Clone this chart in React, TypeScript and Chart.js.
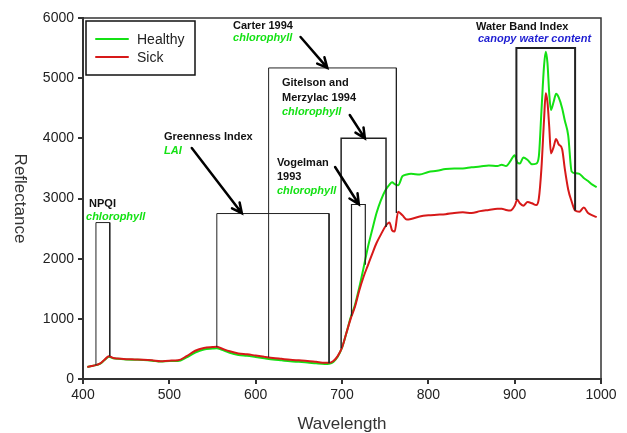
import React, { useEffect, useRef } from "react";
import { Chart, registerables } from "chart.js";

Chart.register(...registerables);

const wavelengths = [405,410,415,420,425,430,435,440,450,460,470,480,490,500,510,520,530,540,550,555,560,570,580,590,600,610,620,630,640,650,660,670,680,685,690,695,700,705,710,715,720,725,730,735,740,745,750,755,758,761,765,770,775,780,790,800,810,820,830,840,850,860,870,880,885,890,895,900,903,906,910,915,920,925,928,931,934,936,938,940,942,945,948,951,955,958,962,966,970,975,980,985,990,995];

const healthy = [200,215,230,255,315,370,345,335,325,320,315,305,290,300,300,360,440,490,505,510,490,435,400,385,365,345,325,310,295,285,275,260,250,255,285,370,520,760,1020,1230,1520,1850,2190,2480,2760,2970,3130,3230,3270,3240,3220,3370,3400,3410,3400,3440,3460,3490,3500,3500,3520,3530,3550,3540,3560,3540,3620,3720,3600,3580,3680,3640,3570,3580,3700,4450,5200,5440,5250,4750,4470,4600,4740,4680,4500,4300,4050,3450,3420,3410,3340,3290,3230,3190];

const sick = [200,215,230,260,320,380,350,340,330,325,320,310,295,305,310,380,470,515,530,535,510,460,425,410,390,370,350,335,320,310,300,285,270,270,300,380,520,760,1000,1200,1470,1700,1890,2080,2260,2400,2530,2600,2470,2450,2780,2720,2650,2660,2700,2720,2730,2740,2760,2770,2760,2790,2810,2830,2830,2810,2800,2880,2980,2920,2880,2940,2920,2890,3000,3500,4300,4750,4600,4200,3750,3850,3990,3900,3820,3500,3150,2950,2800,2780,2850,2760,2720,2690];

const xTicks = [400, 500, 600, 700, 800, 900, 1000];
const yTicks = [0, 1000, 2000, 3000, 4000, 5000, 6000];

const boxStart = [415, 555, 615, 699, 711, 902];
const boxEnd = [431, 685, 763, 751, 727, 970];
const boxTop = [2600, 2750, 5170, 4000, 2900, 5500];
const boxStartBase = [230, 530, 360, 510, 1050, 2975];
const boxEndBase = [380, 265, 2760, 2525, 1900, 2800];
const boxWidths = [1, 1, 1, 1.5, 1.2, 2];

const arrowFromX = [652, 709, 692, 526];
const arrowFromY = [5684, 4388, 3523, 3839];
const arrowToX = [683, 726.5, 719.5, 584];
const arrowToY = [5170, 4000, 2905, 2755];

const labelTexts = ["Carter 1994", "chlorophyll", "Gitelson and", "Merzylac 1994", "chlorophyll", "Vogelman", "1993", "chlorophyll", "Greenness Index", "LAI", "NPQI", "chlorophyll", "Water Band Index", "canopy water content"];
const labelX = [573.8, 573.8, 630.5, 630.5, 630.5, 624.7, 624.7, 624.7, 493.8, 493.8, 407, 403.5, 855.2, 857.5];
const labelY = [5867, 5667, 4919, 4670, 4437, 3590, 3357, 3124, 4022, 3789, 2908, 2692, 5850, 5651];
const labelKind = ["t", "g", "t", "t", "g", "t", "t", "g", "t", "g", "t", "g", "t", "b"];

const GREEN = "rgb(20,225,20)";
const RED = "rgb(215,25,25)";
const FONT = "'Liberation Sans', Arial, sans-serif";

const overlay = {
  id: "overlay",
  afterDatasetsDraw(chart: any) {
    const { ctx, chartArea, scales } = chart;
    const xs = scales.x;
    const ys = scales.y;
    ctx.save();
    // frame
    ctx.strokeStyle = "#333";
    ctx.lineWidth = 1.5;
    ctx.strokeRect(chartArea.left, chartArea.top, chartArea.right - chartArea.left, chartArea.bottom - chartArea.top);

    // arrows
    ctx.strokeStyle = "#000";
    ctx.lineWidth = 2.5;
    ctx.lineCap = "round";
    for (let i = 0; i < arrowFromX.length; i++) {
      const x1 = xs.getPixelForValue(arrowFromX[i]);
      const y1 = ys.getPixelForValue(arrowFromY[i]);
      const x2 = xs.getPixelForValue(arrowToX[i]);
      const y2 = ys.getPixelForValue(arrowToY[i]);
      const a = Math.atan2(y2 - y1, x2 - x1);
      ctx.beginPath();
      ctx.moveTo(x1, y1);
      ctx.lineTo(x2, y2);
      const h = 11;
      ctx.moveTo(x2 - h * Math.cos(a - 0.45), y2 - h * Math.sin(a - 0.45));
      ctx.lineTo(x2, y2);
      ctx.lineTo(x2 - h * Math.cos(a + 0.45), y2 - h * Math.sin(a + 0.45));
      ctx.stroke();
    }

    // labels
    ctx.textBaseline = "middle";
    ctx.textAlign = "left";
    for (let i = 0; i < labelTexts.length; i++) {
      const k = labelKind[i];
      ctx.font = (k === "t" ? "bold " : "italic bold ") + "11px " + FONT;
      ctx.fillStyle = k === "t" ? "#111" : k === "g" ? GREEN : "rgb(30,30,210)";
      ctx.fillText(labelTexts[i], xs.getPixelForValue(labelX[i]), ys.getPixelForValue(labelY[i]));
    }

    // legend
    const lx = chartArea.left + 3;
    const ly = chartArea.top + 3;
    ctx.strokeStyle = "#111";
    ctx.lineWidth = 1.5;
    ctx.strokeRect(lx, ly, 109, 54);
    ctx.lineWidth = 2;
    ctx.strokeStyle = GREEN;
    ctx.beginPath();
    ctx.moveTo(lx + 10, ly + 18);
    ctx.lineTo(lx + 42, ly + 18);
    ctx.stroke();
    ctx.strokeStyle = RED;
    ctx.beginPath();
    ctx.moveTo(lx + 10, ly + 36);
    ctx.lineTo(lx + 42, ly + 36);
    ctx.stroke();
    ctx.fillStyle = "#222";
    ctx.font = "14px " + FONT;
    ctx.fillText("Healthy", lx + 51, ly + 19);
    ctx.fillText("Sick", lx + 51, ly + 37);

    // axis titles
    ctx.font = "17px " + FONT;
    ctx.fillStyle = "#333";
    ctx.textAlign = "center";
    ctx.fillText("Wavelength", (chartArea.left + chartArea.right) / 2, 424);
    ctx.translate(20, (chartArea.top + chartArea.bottom) / 2);
    ctx.rotate(Math.PI / 2);
    ctx.fillText("Reflectance", 0, 0);
    ctx.restore();
  },
};

export default function App() {
  const ref = useRef<HTMLCanvasElement | null>(null);
  useEffect(() => {
    if (!ref.current) return;
    const boxDatasets = boxStart.map((s, i) => ({
      label: "box" + i,
      data: [
        { x: s, y: boxStartBase[i] },
        { x: s, y: boxTop[i] },
        { x: boxEnd[i], y: boxTop[i] },
        { x: boxEnd[i], y: boxEndBase[i] },
      ],
      borderColor: "#222",
      borderWidth: boxWidths[i],
      pointRadius: 0,
      tension: 0,
      fill: false,
    }));
    const chart = new Chart(ref.current, {
      type: "line",
      data: {
        datasets: [
          ...boxDatasets,
          {
            label: "Sick",
            data: wavelengths.map((w, i) => ({ x: w, y: sick[i] })),
            borderColor: RED,
            borderWidth: 2,
            pointRadius: 0,
            cubicInterpolationMode: "monotone",
            fill: false,
          },
          {
            label: "Healthy",
            data: wavelengths.map((w, i) => ({ x: w, y: healthy[i] })),
            borderColor: GREEN,
            borderWidth: 2,
            pointRadius: 0,
            cubicInterpolationMode: "monotone",
            fill: false,
          },
        ] as any,
      },
      options: {
        animation: false,
        responsive: true,
        maintainAspectRatio: false,
        layout: { padding: { left: 0, top: 18, right: 26, bottom: 0 } },
        plugins: { legend: { display: false }, tooltip: { enabled: false } },
        scales: {
          x: {
            type: "linear",
            min: 400,
            max: 1000,
            afterFit: (s: any) => { s.height = 54; },
            afterBuildTicks: (s: any) => { s.ticks = xTicks.map((v) => ({ value: v })); },
            ticks: { color: "#222", font: { size: 14, family: FONT }, padding: 3, maxRotation: 0, callback: (v: any) => String(v) },
            grid: { display: true, drawOnChartArea: false, drawTicks: true, tickLength: 5, color: "#333", lineWidth: 2 },
            border: { display: true, color: "#333", width: 2 },
          },
          y: {
            type: "linear",
            min: 0,
            max: 6000,
            afterFit: (s: any) => { s.width = 83; },
            afterBuildTicks: (s: any) => { s.ticks = yTicks.map((v) => ({ value: v })); },
            ticks: { color: "#222", font: { size: 14, family: FONT }, padding: 4, callback: (v: any) => String(v) },
            grid: { display: true, drawOnChartArea: false, drawTicks: true, tickLength: 5, color: "#333", lineWidth: 2 },
            border: { display: true, color: "#333", width: 2 },
          },
        },
      },
      plugins: [overlay],
    });
    return () => chart.destroy();
  }, []);
  return (
    <div style={{ position: "fixed", left: 0, top: 0, width: 627, height: 433, background: "#fff" }}>
      <canvas ref={ref} />
    </div>
  );
}
